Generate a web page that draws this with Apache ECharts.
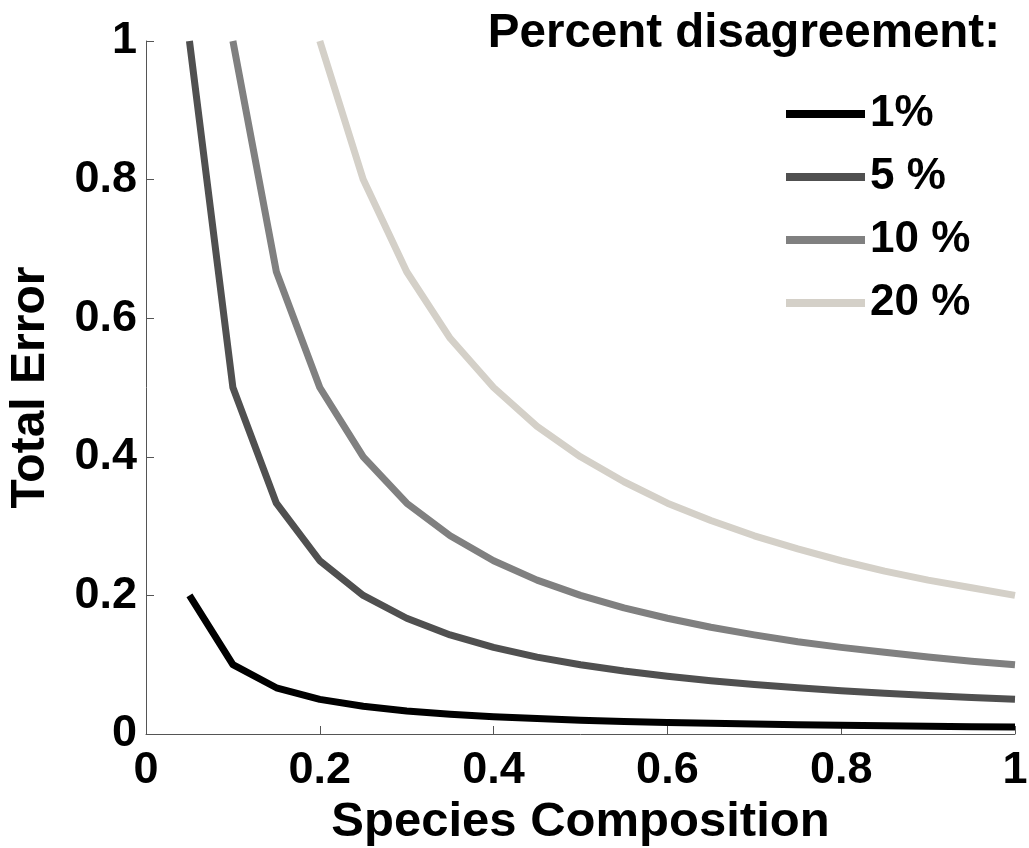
<!DOCTYPE html>
<html>
<head>
<meta charset="utf-8">
<style>
  html, body { margin: 0; padding: 0; background: #ffffff; }
  #chart { width: 1029px; height: 848px; }
</style>
<script src="https://cdn.jsdelivr.net/npm/echarts@6/dist/echarts.min.js"></script>
</head>
<body>
<div id="chart"></div>
<script>
// Species composition (x) sampled every 0.05
const composition = [0.05, 0.10, 0.15, 0.20, 0.25, 0.30, 0.35, 0.40, 0.45, 0.50,
                     0.55, 0.60, 0.65, 0.70, 0.75, 0.80, 0.85, 0.90, 0.95, 1.00];

// Total error for each percent disagreement (null where above the plotted range)
const err1 = [0.200, 0.100, 0.0667, 0.050, 0.040, 0.0333, 0.0286, 0.025, 0.0222, 0.020,
              0.0182, 0.0167, 0.0154, 0.0143, 0.0133, 0.0125, 0.0118, 0.0111, 0.0105, 0.010];
const err5 = [1.000, 0.500, 0.333, 0.250, 0.200, 0.167, 0.143, 0.125, 0.111, 0.100,
              0.0909, 0.0833, 0.0769, 0.0714, 0.0667, 0.0625, 0.0588, 0.0556, 0.0526, 0.050];
const err10 = [null, 1.000, 0.667, 0.500, 0.400, 0.333, 0.286, 0.250, 0.222, 0.200,
               0.182, 0.167, 0.154, 0.143, 0.133, 0.125, 0.118, 0.111, 0.105, 0.100];
const err20 = [null, null, null, 1.000, 0.800, 0.667, 0.571, 0.500, 0.444, 0.400,
               0.364, 0.333, 0.308, 0.286, 0.267, 0.250, 0.235, 0.222, 0.211, 0.200];

const seriesNames = ['1%', '5 %', '10 %', '20 %'];
const seriesValues = [err1, err5, err10, err20];
const seriesColors = ['#000000', '#505050', '#808080', '#d4d0c8'];

const xTicks = [0, 0.2, 0.4, 0.6, 0.8, 1];
const yTicks = [0, 0.2, 0.4, 0.6, 0.8, 1];

const FONT = '"Liberation Sans", Arial, Helvetica, sans-serif';
const AXIS_COLOR = '#555555';

function pairs(ys) {
  return composition.map((x, i) => [x, ys[i]]);
}

function tickText(list) {
  return v => {
    const t = list.find(k => Math.abs(k - v) < 1e-9);
    return t === undefined ? '' : String(t);
  };
}

const chart = echarts.init(document.getElementById('chart'), null, { renderer: 'canvas' });

chart.setOption({
  backgroundColor: '#ffffff',
  animation: false,
  title: {
    text: 'Percent disagreement:',
    right: 24,
    top: 5,
    textStyle: { fontFamily: FONT, fontWeight: 'bold', fontSize: 47.5, color: '#000000' }
  },
  legend: {
    orient: 'vertical',
    left: 781,
    top: 87,
    itemWidth: 79,
    itemHeight: 14,
    itemGap: 19,
    data: seriesNames.map((n, i) => ({
      name: n,
      icon: 'path://M0,0 L79,0 L79,8 L0,8 Z',
      itemStyle: { color: seriesColors[i] }
    })),
    textStyle: {
      fontFamily: FONT, fontWeight: 'bold', fontSize: 44, color: '#000000',
      lineHeight: 44, padding: [0, 0, 0, 0]
    }
  },
  grid: { left: 146, right: 14, top: 41, bottom: 114, containLabel: false, outerBoundsMode: 'none' },
  xAxis: {
    type: 'value',
    min: 0, max: 1, interval: 0.2,
    name: 'Species Composition',
    nameLocation: 'middle',
    nameGap: 60,
    nameTextStyle: { fontFamily: FONT, fontWeight: 'bold', fontSize: 49, color: '#000000' },
    axisLine: { show: true, lineStyle: { color: AXIS_COLOR, width: 1 } },
    axisTick: { show: true, inside: true, length: 8, lineStyle: { color: AXIS_COLOR } },
    axisLabel: {
      fontFamily: FONT, fontWeight: 'bold', fontSize: 45, color: '#000000', margin: 14,
      formatter: tickText(xTicks)
    },
    splitLine: { show: false }
  },
  yAxis: {
    type: 'value',
    min: 0, max: 1, interval: 0.2,
    name: 'Total Error',
    nameLocation: 'middle',
    nameGap: 91,
    nameTextStyle: { fontFamily: FONT, fontWeight: 'bold', fontSize: 48, color: '#000000' },
    axisLine: { show: true, lineStyle: { color: AXIS_COLOR, width: 1 } },
    axisTick: { show: true, inside: true, length: 8, lineStyle: { color: AXIS_COLOR } },
    axisLabel: {
      fontFamily: FONT, fontWeight: 'bold', fontSize: 45, color: '#000000', margin: 9,
      formatter: tickText(yTicks)
    },
    splitLine: { show: false }
  },
  series: seriesNames.map((n, i) => ({
    name: n,
    type: 'line',
    data: pairs(seriesValues[i]),
    showSymbol: false,
    symbol: 'none',
    clip: true,
    lineStyle: { color: seriesColors[i], width: 7, join: 'round', cap: 'butt' },
    itemStyle: { color: seriesColors[i] },
    z: 10 - i
  }))
});
</script>
</body>
</html>
